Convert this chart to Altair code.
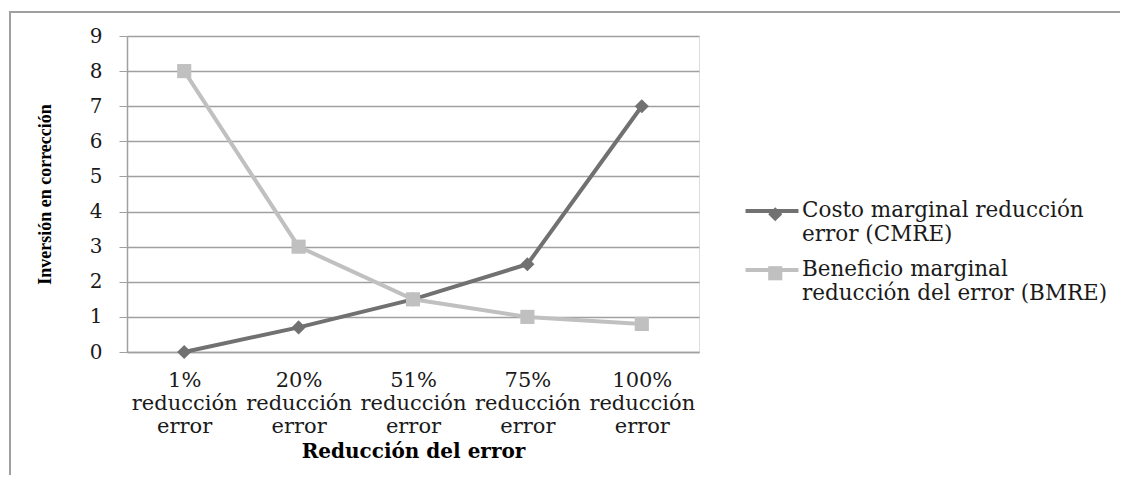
import altair as alt
import pandas as pd

categorias = ["1% reducción error", "20% reducción error", "51% reducción error",
              "75% reducción error", "100% reducción error"]
cat_lineas = [["1%", "reducción", "error"], ["20%", "reducción", "error"],
              ["51%", "reducción", "error"], ["75%", "reducción", "error"],
              ["100%", "reducción", "error"]]
serie_cmre = "Costo marginal reducción error (CMRE)"
serie_bmre = "Beneficio marginal reducción del error (BMRE)"
leyenda_cmre = ["Costo marginal reducción", "error (CMRE)"]
leyenda_bmre = ["Beneficio marginal", "reducción del error (BMRE)"]
valores_cmre = [0, 0.7, 1.5, 2.5, 7]
valores_bmre = [8, 3, 1.5, 1, 0.8]
y_ticks = [0, 1, 2, 3, 4, 5, 6, 7, 8, 9]

series = [serie_cmre, serie_bmre]
codigos = ["CMRE", "BMRE"]
colores = ["#717171", "#c0c0c0"]

rows = []
for s, c, vals in [(serie_cmre, "CMRE", valores_cmre), (serie_bmre, "BMRE", valores_bmre)]:
    for cat, v in zip(categorias, vals):
        rows.append({"categoria": cat, "serie": s, "codigo": c, "valor": v})
df = pd.DataFrame(rows)

FONT = "DejaVu Serif"

x_label_expr = "{" + ",".join(
    f"'{c}': {cat_lineas[i]}" for i, c in enumerate(categorias)) + "}[datum.label]"
leg_expr_serie = f"datum.label == '{serie_cmre}' ? {leyenda_cmre} : {leyenda_bmre}"
# the marker legend only supplies the symbols; its labels are blank placeholders
leg_expr_codigo = "[' ', ' ']"

x_enc = alt.X("categoria:N", sort=categorias,
              scale=alt.Scale(paddingInner=0, paddingOuter=0),
              axis=alt.Axis(title="Reducción del error", labelAngle=0,
                            labelExpr=x_label_expr, labelFont=FONT, labelFontSize=21,
                            labelLineHeight=23, labelColor="#1a1a1a", labelPadding=17,
                            ticks=False, domainColor="#a0a0a0", domainWidth=1.5,
                            grid=False, titleFont=FONT, titleFontSize=20,
                            titleFontWeight="bold", titleColor="#000000",
                            titlePadding=5, labelLimit=200))
y_enc = alt.Y("valor:Q", scale=alt.Scale(domain=[0, 9], nice=False),
              axis=alt.Axis(title="Inversión en corrección", values=y_ticks,
                            labelFont=FONT, labelFontSize=20, labelColor="#1a1a1a",
                            labelPadding=17, tickSize=8, tickColor="#a0a0a0",
                            domainColor="#a0a0a0", domainWidth=1.5,
                            gridColor="#a0a0a0", gridWidth=1.5,
                            titleFont="Liberation Serif", titleFontSize=18,
                            titleFontWeight="bold", titleColor="#000000",
                            titlePadding=35))

base = alt.Chart(df)

lineas = base.mark_line(strokeWidth=4).encode(
    x=x_enc, y=y_enc,
    color=alt.Color("serie:N", sort=series,
                    scale=alt.Scale(domain=series, range=colores),
                    legend=alt.Legend(title=None, orient="none", legendX=632.5, legendY=162.5,
                                      symbolType="M-2.52,0H2.52", symbolSize=441,
                                      symbolStrokeWidth=4, labelExpr=leg_expr_serie,
                                      labelFont=FONT, labelFontSize=21.5,
                                      labelColor="#1a1a1a", labelOffset=17.5,
                                      labelLimit=400, rowPadding=12)),
)

leyenda_puntos = alt.Legend(title=None, orient="none", legendX=637.5, legendY=167.5,
                            symbolSize=200, symbolStrokeWidth=0,
                            labelExpr=leg_expr_codigo, labelFont=FONT,
                            labelFontSize=21.5, labelOffset=3,
                            labelLimit=400, rowPadding=12)

puntos = base.mark_point(filled=True, opacity=1, size=200).encode(
    x=x_enc, y=y_enc,
    fill=alt.Fill("codigo:N", sort=codigos,
                  scale=alt.Scale(domain=codigos, range=colores),
                  legend=leyenda_puntos),
    shape=alt.Shape("codigo:N", sort=codigos,
                    scale=alt.Scale(domain=codigos, range=["diamond", "square"]),
                    legend=leyenda_puntos),
)

marco = pd.DataFrame({"k": [0]})
borde_sup = alt.Chart(marco).mark_rule(color="#a0a0a0", strokeWidth=2).encode(
    x=alt.value(-117), x2=alt.value(1000), y=alt.value(-24))
borde_izq = alt.Chart(marco).mark_rule(color="#a0a0a0", strokeWidth=2).encode(
    x=alt.value(-117), y=alt.value(-25), y2=alt.value(460))

chart = alt.layer(borde_sup, borde_izq, lineas, puntos).properties(
    width=572, height=316,
    autosize=alt.AutoSizeParams(type="none"),
    padding={"left": 119, "top": 28, "right": 421, "bottom": 123},
    background="white",
).configure_view(stroke=None).configure(
    style={"guide-label": {"lineHeight": 24}}
)

chart.save("out.html", embed_options={"renderer": "svg", "actions": False})
